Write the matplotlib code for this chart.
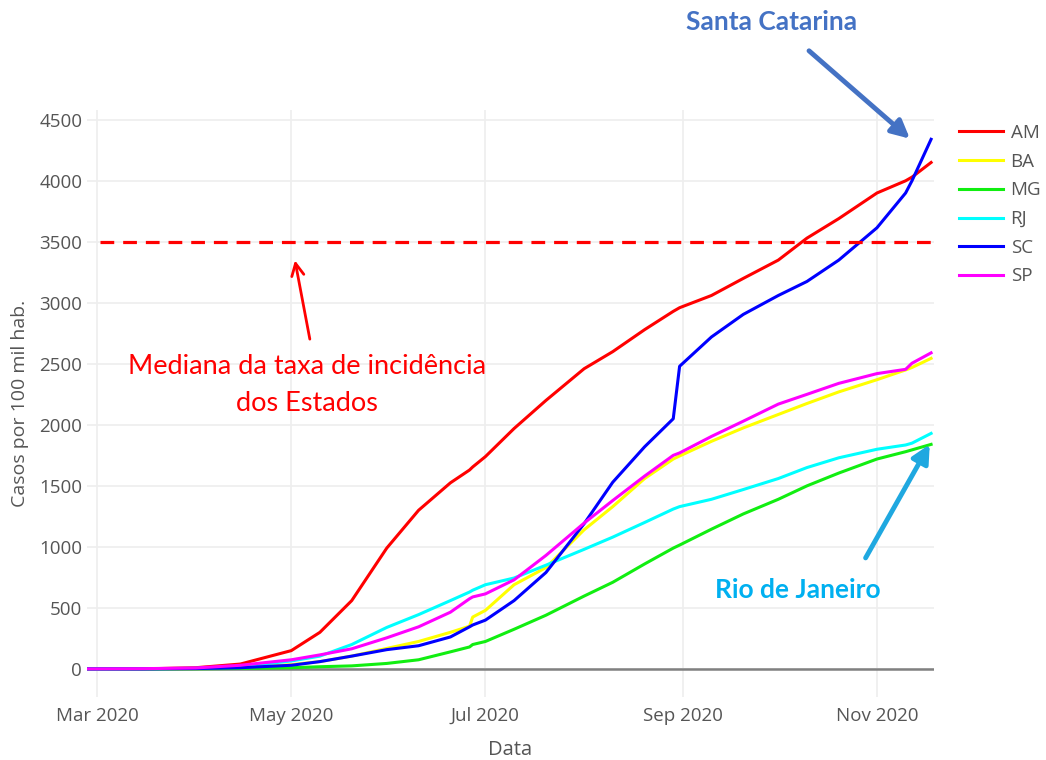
import pandas as pd
import matplotlib
matplotlib.use("Agg")
import matplotlib.pyplot as plt
import matplotlib.dates as mdates

plt.rcParams['font.family'] = ['Open Sans', 'DejaVu Sans']

# datas (amostragem aproximada)
datas = pd.to_datetime([
    '2020-02-26', '2020-03-15', '2020-04-01', '2020-04-15', '2020-05-01',
    '2020-05-10', '2020-05-20', '2020-05-31', '2020-06-10', '2020-06-20',
    '2020-06-26', '2020-06-27', '2020-07-01', '2020-07-10', '2020-07-20',
    '2020-08-01', '2020-08-10', '2020-08-20', '2020-08-29', '2020-08-31',
    '2020-09-10', '2020-09-20', '2020-10-01', '2020-10-10', '2020-10-20',
    '2020-11-01', '2020-11-10', '2020-11-12', '2020-11-18'])

am = [0, 0, 10, 40, 150, 300, 560, 990, 1300, 1525, 1630, 1655, 1740, 1970, 2200,
      2460, 2600, 2780, 2930, 2960, 3060, 3200, 3350, 3530, 3690, 3900, 4000, 4030, 4150]
ba = [0, 1, 3, 10, 35, 60, 105, 168, 225, 300, 350, 425, 480, 690, 830,
      1140, 1330, 1560, 1720, 1745, 1865, 1975, 2085, 2175, 2270, 2370, 2450, 2470, 2545]
mg = [0, 0, 1, 4, 10, 18, 25, 45, 75, 140, 180, 200, 225, 325, 440,
      597, 710, 860, 990, 1015, 1145, 1270, 1390, 1500, 1605, 1720, 1780, 1795, 1840]
rj = [0, 1, 5, 20, 65, 105, 200, 340, 445, 560, 630, 645, 690, 745, 850,
      980, 1080, 1200, 1310, 1330, 1390, 1470, 1560, 1650, 1730, 1800, 1835, 1850, 1930]
sc = [0, 0, 3, 10, 30, 60, 105, 158, 190, 262, 345, 360, 400, 560, 790,
      1190, 1530, 1820, 2050, 2480, 2720, 2905, 3060, 3175, 3350, 3615, 3900, 4000, 4340]
sp = [0, 2, 8, 30, 75, 115, 165, 255, 345, 465, 575, 590, 615, 730, 930,
      1195, 1380, 1580, 1750, 1770, 1905, 2030, 2170, 2250, 2340, 2420, 2455, 2505, 2590]

estados = ['AM', 'BA', 'MG', 'RJ', 'SC', 'SP']
series = [am, ba, mg, rj, sc, sp]
cores = ['#ff0000', '#ffff00', '#11ee11', '#00ffff', '#0000ff', '#ff00ff']

mediana = 3500
mediana_datas = [pd.Timestamp('2020-03-02'), pd.Timestamp('2020-11-18 21:00')]

fig = plt.figure(figsize=(10.46, 7.6), dpi=100)
ax = fig.add_axes([87 / 1046, 1 - 697 / 760, (934 - 87) / 1046, (697 - 110) / 760])

for nome, y, c in zip(estados, series, cores):
    ax.plot(datas, y, color=c, lw=2.2, label=nome)

ax.plot(mediana_datas, [mediana, mediana], color='#ff0000', lw=2.3,
        linestyle=(0, (4.3, 2.8)))

ax.axhline(0, color='#808080', lw=1.8, zorder=1)

ax.set_xlim(pd.Timestamp('2020-02-26 20:00'), pd.Timestamp('2020-11-18 22:00'))
ax.set_ylim(-230, 4580)
ax.set_yticks(range(0, 4501, 500))
ax.set_xticks(pd.to_datetime(['2020-03-01', '2020-05-01', '2020-07-01',
                              '2020-09-01', '2020-11-01']))
ax.xaxis.set_major_formatter(mdates.DateFormatter('%b %Y'))
ax.grid(True, color='#eeeeee', lw=1.2)
ax.set_axisbelow(True)
for s in ax.spines.values():
    s.set_visible(False)
ax.tick_params(length=0, labelsize=13.5, labelcolor='#555555')
ax.tick_params(axis='y', pad=3.5)
ax.tick_params(axis='x', pad=7)
ax.set_xlabel('Data', fontsize=14.5, color='#555555', labelpad=11)
ax.set_ylabel('Casos por 100 mil hab.', fontsize=14, color='#555555', labelpad=7)

leg = ax.legend(loc='upper left', bbox_to_anchor=(959 / 1046, 1 - 124 / 760),
                bbox_transform=fig.transFigure, frameon=False, fontsize=13.5,
                handlelength=2.35, handletextpad=0.4, labelspacing=0.57,
                borderpad=0, borderaxespad=0)
for t in leg.get_texts():
    t.set_color('#555555')

d = mdates.date2num
fonte = ['Lato', 'DejaVu Sans']

# anotacoes
ax.annotate('', xy=(d(pd.Timestamp('2020-05-02')), 3370),
            xytext=(d(pd.Timestamp('2020-05-07')), 2680),
            arrowprops=dict(arrowstyle='->', color='#ff0000', lw=2,
                            mutation_scale=22))
ax.text(d(pd.Timestamp('2020-05-06')), 2330,
        'Mediana da taxa de incidência\ndos Estados', color='#ff0000',
        fontsize=19.5, family=fonte, ha='center', va='center', linespacing=1.6)

ax.annotate('', xy=(d(pd.Timestamp('2020-11-12')), 4330),
            xytext=(d(pd.Timestamp('2020-10-10')), 5080),
            arrowprops=dict(arrowstyle='-|>', color='#4472c4', lw=3.5,
                            mutation_scale=27), annotation_clip=False)
ax.text(d(pd.Timestamp('2020-09-29')), 5300, 'Santa Catarina', color='#4472c4',
        fontsize=19, family=fonte, weight='bold', ha='center', va='center',
        clip_on=False)

ax.annotate('', xy=(d(pd.Timestamp('2020-11-18')), 1860),
            xytext=(d(pd.Timestamp('2020-10-28')), 890),
            arrowprops=dict(arrowstyle='-|>', color='#1fa8e0', lw=3.5,
                            mutation_scale=27))
ax.text(d(pd.Timestamp('2020-10-07')), 648, 'Rio de Janeiro', color='#00b0f0',
        fontsize=19, family=fonte, weight='bold', ha='center', va='center')

fig.savefig('out.png', dpi=100)
